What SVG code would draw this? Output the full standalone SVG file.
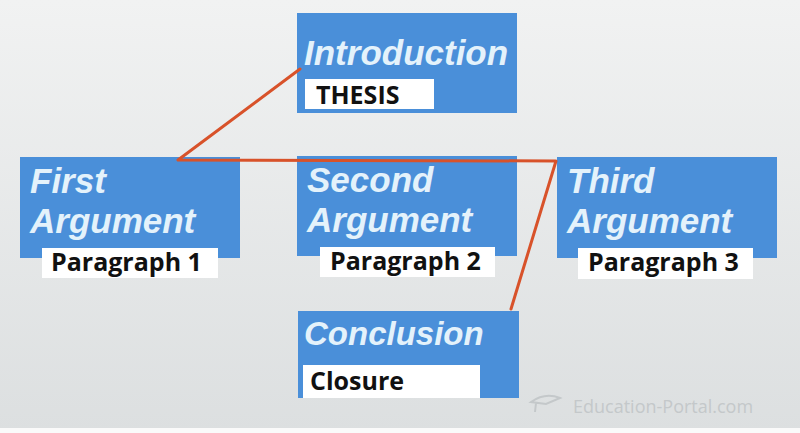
<svg xmlns="http://www.w3.org/2000/svg" width="800" height="433" viewBox="0 0 800 433">
<defs>
<linearGradient id="bg" x1="0" y1="0" x2="0" y2="1">
<stop offset="0" stop-color="#f1f2f2"/>
<stop offset="1" stop-color="#dcdfe0"/>
</linearGradient>
</defs>
<style>
.box{fill:#4a8fd9}
.lab{fill:#ffffff}
.t{font-family:"Liberation Sans",Arial,sans-serif;font-style:italic;font-weight:bold;font-size:35px;fill:#e4f2fb}
.s{font-family:"Open Sans","Noto Sans",sans-serif;font-weight:bold;font-size:25px;fill:#111111}
.c{stroke:#d8522a;stroke-width:3;fill:none;stroke-linecap:round;stroke-linejoin:round}
</style>
<rect x="0" y="0" width="800" height="433" fill="url(#bg)"/>
<rect x="0" y="428" width="800" height="5" fill="#fafafa"/>
<g id="introduction">
<rect class="box" x="297" y="13" width="220" height="100"/>
<rect class="lab" x="305" y="79" width="129" height="30"/>
<text class="t" x="304" y="65">Introduction</text>
<text class="s" x="316" y="104">THESIS</text>
</g>
<g id="first">
<rect class="box" x="20" y="157" width="220" height="101"/>
<rect class="lab" x="42" y="248" width="176" height="30"/>
<text class="t"><tspan x="30" y="193">First</tspan><tspan x="30" y="233">Argument</tspan></text>
<text class="s" x="51" y="271">Paragraph 1</text>
</g>
<g id="second">
<rect class="box" x="297" y="156" width="220" height="100"/>
<rect class="lab" x="320" y="247" width="175" height="30"/>
<text class="t"><tspan x="307" y="192">Second</tspan><tspan x="307" y="232">Argument</tspan></text>
<text class="s" x="330" y="270">Paragraph 2</text>
</g>
<g id="third">
<rect class="box" x="557" y="157" width="220" height="101"/>
<rect class="lab" x="578" y="248" width="175" height="31"/>
<text class="t"><tspan x="567" y="193">Third</tspan><tspan x="567" y="233">Argument</tspan></text>
<text class="s" x="588" y="271">Paragraph 3</text>
</g>
<g id="conclusion">
<rect class="box" x="298" y="311" width="221" height="87"/>
<rect class="lab" x="303" y="365" width="177" height="33"/>
<text class="t" x="304" y="345" style="font-size:33px">Conclusion</text>
<text class="s" x="310" y="390">Closure</text>
</g>
<g id="connectors">
<polyline class="c" points="300,69 178,160 556,161 511,309"/>
</g>
<g id="watermark">
<path d="M531,402 Q545,392 560,398 L546,404 Z M536,403 L535,412" fill="none" stroke="#c4c8ca" stroke-width="2"/>
<text x="573" y="413" font-family="Open Sans, sans-serif" font-size="18" fill="#c4c8ca">Education-Portal.com</text>
</g>
</svg>
